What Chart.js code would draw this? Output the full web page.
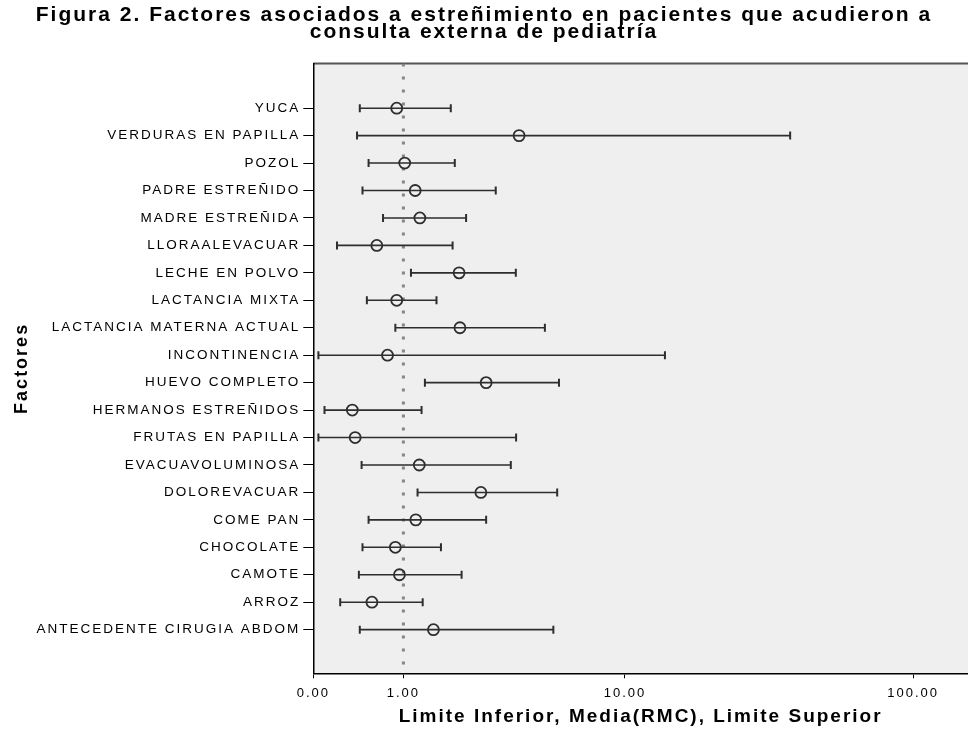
<!DOCTYPE html>
<html>
<head>
<meta charset="utf-8">
<title>Figura 2</title>
<script src="https://cdn.jsdelivr.net/npm/chart.js@4.4.1/dist/chart.umd.min.js"></script>
<style>
  html, body { margin: 0; padding: 0; background: #fff; overflow: hidden; }
  #wrap { width: 968px; height: 742px; position: relative; }
</style>
</head>
<body>
<div id="wrap"><canvas id="chart"></canvas></div>
<script>
'use strict';

/* 1. DATOS */
const FACTORS = [
  'YUCA', 'VERDURAS EN PAPILLA', 'POZOL', 'PADRE ESTREÑIDO', 'MADRE ESTREÑIDA',
  'LLORAALEVACUAR', 'LECHE EN POLVO', 'LACTANCIA MIXTA', 'LACTANCIA MATERNA ACTUAL',
  'INCONTINENCIA', 'HUEVO COMPLETO', 'HERMANOS ESTREÑIDOS', 'FRUTAS EN PAPILLA',
  'EVACUAVOLUMINOSA', 'DOLOREVACUAR', 'COME PAN', 'CHOCOLATE', 'CAMOTE', 'ARROZ',
  'ANTECEDENTE CIRUGIA ABDOM'
];
const LOWER = [0.43, 0.40, 0.53, 0.46, 0.71, 0.20, 1.12, 0.51, 0.88, 0.04,
               1.36, 0.09, 0.04, 0.45, 1.23, 0.53, 0.46, 0.42, 0.23, 0.43];
const MEAN  = [0.90, 3.87, 1.02, 1.19, 1.27, 0.63, 2.07, 0.90, 2.09, 0.77,
               2.78, 0.35, 0.38, 1.26, 2.63, 1.20, 0.88, 0.94, 0.57, 1.52];
const UPPER = [1.88, 38.2, 1.97, 3.07, 2.24, 1.92, 3.75, 1.58, 4.94, 13.96,
               5.62, 1.30, 3.76, 3.57, 5.53, 2.78, 1.67, 2.13, 1.32, 5.34];

const REF_VALUE     = 1;
const X_TICKS       = [0, 1, 10, 100];
const X_TICK_LABELS = ['0.00', '1.00', '10.00', '100.00'];
const X_MAX         = 153;

const TITLE   = ['Figura 2. Factores asociados a estreñimiento en pacientes que acudieron a',
                 'consulta externa de pediatría'];
const X_TITLE = 'Limite Inferior, Media(RMC), Limite Superior';
const Y_TITLE = 'Factores';

/* 2. ESCALA: log10(v + 1), como la figura original (0 queda en el borde) */
const toAxis = v => Math.log10(v + 1);
const Y_MIN = -1.63;
const Y_MAX = FACTORS.length - 1 + 1.59;

const INK = '#2e2e2e';
const FONT = "'Liberation Sans', Arial, sans-serif";

/* 3. DATASETS */
const barPoints = FACTORS.flatMap((_, i) => [
  { x: toAxis(LOWER[i]), y: i },
  { x: toAxis(UPPER[i]), y: i },
  { x: null, y: null }
]);
const capPoints = FACTORS.flatMap((_, i) => [
  { x: toAxis(LOWER[i]), y: i },
  { x: toAxis(UPPER[i]), y: i }
]);
const meanPoints = FACTORS.map((_, i) => ({ x: toAxis(MEAN[i]), y: i }));
const refPoints  = [{ x: toAxis(REF_VALUE), y: Y_MIN }, { x: toAxis(REF_VALUE), y: Y_MAX }];

/* fondo gris del área, borde superior y espaciado de letras */
const framePlugin = {
  id: 'frame',
  beforeDraw(chart) {
    const { ctx, chartArea: a } = chart;
    ctx.letterSpacing = '2px';
    ctx.save();
    ctx.fillStyle = '#efefef';
    ctx.fillRect(a.left, a.top, a.right - a.left, a.bottom - a.top);
    ctx.strokeStyle = '#555';
    ctx.lineWidth = 2;
    ctx.beginPath();
    ctx.moveTo(a.left, a.top);
    ctx.lineTo(a.right, a.top);
    ctx.stroke();
    ctx.restore();
  }
};

Chart.defaults.font.family = FONT;
Chart.defaults.color = '#000';

new Chart(document.getElementById('chart'), {
  type: 'scatter',
  data: {
    datasets: [
      {
        label: 'Media',
        data: meanPoints,
        pointStyle: 'circle',
        pointRadius: 5.5,
        pointBorderWidth: 1.8,
        pointBorderColor: INK,
        pointBackgroundColor: 'rgba(0,0,0,0)',
        order: 0
      },
      {
        label: 'Limites',
        data: capPoints,
        pointStyle: 'line',
        rotation: 90,
        pointRadius: 4,
        pointBorderWidth: 2,
        pointBorderColor: INK,
        order: 1
      },
      {
        type: 'line',
        label: 'Intervalo',
        data: barPoints,
        borderColor: INK,
        borderWidth: 1.6,
        pointRadius: 0,
        spanGaps: false,
        order: 2
      },
      {
        type: 'line',
        label: 'Referencia',
        data: refPoints,
        borderColor: '#858585',
        borderWidth: 3,
        borderDash: [3, 10],
        pointRadius: 0,
        order: 3
      }
    ]
  },
  options: {
    responsive: true,
    maintainAspectRatio: false,
    animation: false,
    layout: { padding: 0, autoPadding: false },
    plugins: {
      legend: { display: false },
      tooltip: { enabled: false },
      title: {
        display: true,
        text: TITLE,
        color: '#000',
        font: { size: 21, weight: 'bold', lineHeight: 0.82 },
        padding: { top: 6.5, bottom: 22.5 }
      }
    },
    scales: {
      x: {
        type: 'linear',
        min: 0,
        max: toAxis(X_MAX),
        afterBuildTicks: s => { s.ticks = X_TICKS.map(v => ({ value: toAxis(v) })); },
        afterFit: s => { s.height = 68.7; s.paddingLeft = 0; s.paddingRight = 0; },
        ticks: {
          callback: (val, idx) => X_TICK_LABELS[idx],
          autoSkip: false,
          maxRotation: 0,
          padding: 7,
          color: '#000',
          font: { size: 13 }
        },
        grid: { drawOnChartArea: false, tickLength: 5, color: '#000' },
        border: { color: '#000', width: 1.5 },
        title: {
          display: true,
          text: X_TITLE,
          color: '#000',
          font: { size: 19, weight: 'bold' },
          padding: { top: 0, bottom: 14 }
        }
      },
      y: {
        type: 'linear',
        reverse: true,
        min: Y_MIN,
        max: Y_MAX,
        afterBuildTicks: s => { s.ticks = FACTORS.map((_, i) => ({ value: i })); },
        afterFit: s => { s.width = 313.3; },
        ticks: {
          callback: val => FACTORS[val],
          autoSkip: false,
          padding: 3,
          color: '#000',
          font: { size: 13.5 }
        },
        grid: { drawOnChartArea: false, tickLength: 10, color: '#000' },
        border: { color: '#000', width: 1.5 },
        title: {
          display: true,
          text: Y_TITLE,
          color: '#000',
          font: { size: 18, weight: 'bold' },
          padding: { top: 11 }
        }
      }
    }
  },
  plugins: [framePlugin]
});
</script>
</body>
</html>
